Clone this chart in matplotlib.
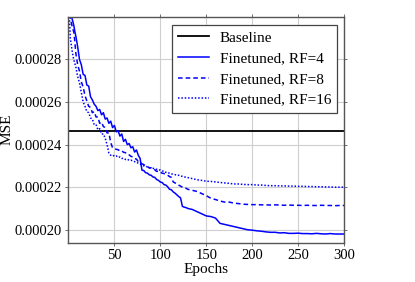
import matplotlib
matplotlib.use("Agg")
import matplotlib.pyplot as plt
import numpy as np

plt.rcParams['font.family'] = 'serif'
plt.rcParams['font.serif'] = ['Liberation Serif', 'Times New Roman', 'DejaVu Serif']
plt.rcParams['mathtext.fontset'] = 'stix'

# epochs shared by the three finetuned runs
epochs = [1, 2, 3, 4, 5, 6, 7, 8,
          10, 12, 14, 16, 18, 20, 22, 24, 26, 28, 30, 32, 34, 36, 38, 40,
          42, 44, 46, 48, 50, 52, 54, 56, 58, 60, 62, 64, 66, 68, 70, 72,
          74, 76, 78, 80, 82, 84, 86, 88, 90, 92, 94, 96, 98, 100, 102, 104,
          106, 108, 110, 112, 114, 116, 118, 120, 122, 124, 126, 128, 130,
          135, 140, 145, 150, 155, 160, 165, 170, 175, 180, 185, 190, 195, 200,
          205, 210, 215, 220, 225, 230, 235, 240, 245, 250, 255, 260, 265, 270,
          275, 280, 285, 290, 295, 300]

# MSE values, in units of 1e-4
baseline_e4 = 2.464
rf4_e4 = [3.25, 3.08, 3.02, 2.99, 2.975, 2.955, 2.93, 2.91,
          2.86, 2.80, 2.775, 2.73, 2.725, 2.68, 2.675, 2.625, 2.61, 2.59, 2.58, 2.56, 2.565, 2.54, 2.55, 2.52,
          2.525, 2.50, 2.51, 2.48, 2.49, 2.46, 2.465, 2.44, 2.45, 2.415, 2.425, 2.40, 2.405, 2.385, 2.39, 2.365,
          2.375, 2.35, 2.335, 2.28, 2.278, 2.268, 2.266, 2.258, 2.256, 2.248, 2.246, 2.236, 2.232, 2.224, 2.222, 2.212,
          2.21, 2.202, 2.19, 2.188, 2.178, 2.172, 2.164, 2.156, 2.15, 2.11, 2.106, 2.104, 2.10,
          2.095, 2.085, 2.075, 2.065, 2.062, 2.055, 2.03, 2.025, 2.02, 2.015, 2.01, 2.005, 2.0,
          1.998, 1.995, 1.993, 1.99, 1.988, 1.988, 1.985, 1.986, 1.983, 1.983, 1.984, 1.982, 1.982, 1.981, 1.983,
          1.981, 1.980, 1.982, 1.980, 1.980, 1.980]
rf8_e4 = [3.10, 3.00, 2.975, 2.955, 2.94, 2.925, 2.88, 2.83,
          2.775, 2.745, 2.695, 2.67, 2.63, 2.605, 2.58, 2.575, 2.55, 2.555, 2.53, 2.53, 2.50, 2.505, 2.485, 2.48,
          2.455, 2.455, 2.41, 2.385, 2.382, 2.378, 2.376, 2.37, 2.371, 2.364, 2.362, 2.354, 2.352, 2.345, 2.342, 2.334,
          2.332, 2.32, 2.316, 2.31, 2.306, 2.30, 2.297, 2.29, 2.291, 2.284, 2.282, 2.274, 2.276, 2.27, 2.266, 2.264,
          2.26, 2.256, 2.25, 2.246, 2.225, 2.22, 2.215, 2.21, 2.205, 2.20, 2.195, 2.195, 2.19,
          2.185, 2.18, 2.17, 2.16, 2.148, 2.142, 2.135, 2.13, 2.13, 2.125, 2.123, 2.12, 2.119,
          2.118, 2.118, 2.117, 2.117, 2.116, 2.117, 2.116, 2.115, 2.116, 2.115, 2.115, 2.114, 2.115, 2.114, 2.114,
          2.115, 2.114, 2.114, 2.113, 2.114, 2.114]
rf16_e4 = [3.00, 2.90, 2.87, 2.84, 2.815, 2.795, 2.78, 2.765,
           2.72, 2.69, 2.645, 2.60, 2.58, 2.555, 2.55, 2.525, 2.52, 2.495, 2.495, 2.47, 2.475, 2.45, 2.45, 2.43,
           2.40, 2.36, 2.35, 2.352, 2.345, 2.347, 2.34, 2.342, 2.335, 2.336, 2.33, 2.332, 2.326, 2.327, 2.323, 2.32,
           2.318, 2.312, 2.308, 2.305, 2.30, 2.299, 2.295, 2.293, 2.29, 2.289, 2.285, 2.284, 2.28, 2.281, 2.276, 2.276,
           2.27, 2.27, 2.265, 2.263, 2.26, 2.259, 2.256, 2.256, 2.252, 2.251, 2.248, 2.247, 2.245,
           2.24, 2.235, 2.232, 2.228, 2.227, 2.225, 2.222, 2.22, 2.218, 2.215, 2.215, 2.213, 2.212,
           2.212, 2.21, 2.21, 2.208, 2.207, 2.207, 2.206, 2.206, 2.205, 2.205, 2.204, 2.204, 2.203, 2.203, 2.202,
           2.202, 2.201, 2.201, 2.200, 2.200, 2.200]

labels = ["Baseline", "Finetuned, RF=4", "Finetuned, RF=8", "Finetuned, RF=16"]
xticks = [50, 100, 150, 200, 250, 300]
yticks = [0.00020, 0.00022, 0.00024, 0.00026, 0.00028]

fig = plt.figure(figsize=(4.15, 2.82), dpi=100)
ax = fig.add_axes([0.165, 0.14, 0.664, 0.80])

ax.axhline(baseline_e4 * 1e-4, color="black", linewidth=1.3, label=labels[0])
ax.plot(epochs, np.array(rf4_e4) * 1e-4, color="#0000ff", linewidth=1.1, linestyle="-", label=labels[1])
ax.plot(epochs, np.array(rf8_e4) * 1e-4, color="#0000ff", linewidth=1.1, linestyle=(0, (3, 2)), label=labels[2])
ax.plot(epochs, np.array(rf16_e4) * 1e-4, color="#0000ff", linewidth=1.1, linestyle=(0, (1, 1.2)), label=labels[3])

ax.set_xlim(0, 300)
ax.set_ylim(0.000194, 0.0003)
ax.set_xticks(xticks)
ax.set_yticks(yticks)
ax.set_yticklabels(["%.5f" % v for v in yticks])
ax.tick_params(axis="both", labelsize=10.5, direction="out", length=2.5, width=0.6,
               colors="#555555", labelcolor="black", top=True, right=True, pad=2)
ax.grid(True, color="#cfcfcf", linewidth=0.8)
ax.set_axisbelow(True)
for spine in ax.spines.values():
    spine.set_color("#555555")
    spine.set_linewidth(1.0)

ax.set_xlabel("Epochs", fontsize=11, labelpad=1)
ax.set_ylabel("MSE", fontsize=11, labelpad=1)

leg = ax.legend(loc="upper right", bbox_to_anchor=(0.975, 0.964), fontsize=11, frameon=True,
                fancybox=False, edgecolor="#444444", framealpha=1, handlelength=2.0,
                borderpad=0.4, labelspacing=0.45, handletextpad=0.7, borderaxespad=0)
leg.get_frame().set_linewidth(0.9)

plt.savefig("out.png", dpi=100)
